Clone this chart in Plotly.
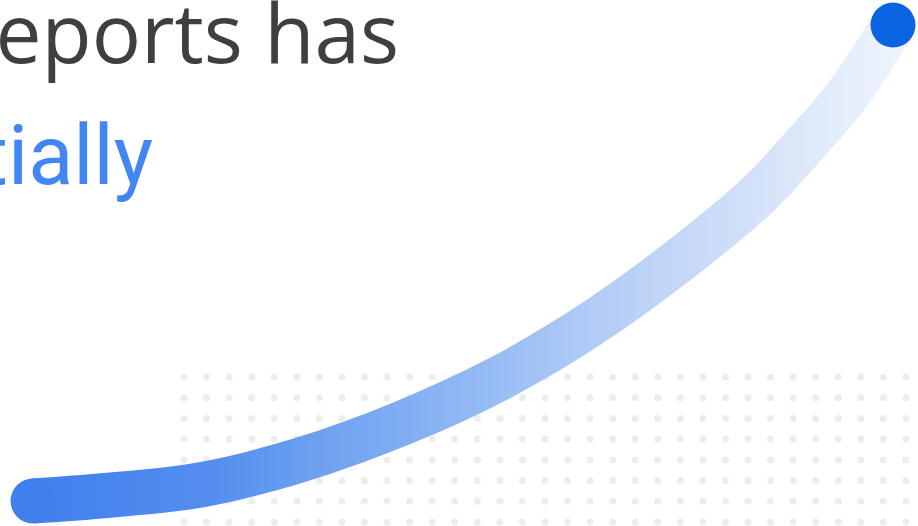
import numpy as np
import plotly.graph_objects as go

W, H = 918, 526

# Growth curve (chart units: x to the right, y upward)
curve_x = [33, 100, 200, 300, 400, 500, 600, 700, 760, 800, 845, 875, 893]
curve_y = [25, 30, 41, 66, 102, 148, 208, 282, 333, 376, 428, 472, 501]

# Gradient stops along the curve (fraction of horizontal extent, colour)
grad_pos = [0.0, 0.21, 0.32, 0.43, 0.54, 0.65, 0.76, 0.87, 1.0]
grad_col = ["rgb(64,128,238)", "rgb(85,142,238)", "rgb(108,160,240)",
            "rgb(130,175,243)", "rgb(155,190,245)", "rgb(180,205,246)",
            "rgb(200,218,247)", "rgb(220,232,249)", "rgb(240,245,252)"]

# Headline text fragments
line1_text = "reports has"
line2_text = "exponentially"

# Dot grid (background texture)
grid_x0, grid_dx, grid_nx = 184, 22.56, 33
grid_y0, grid_dy, grid_ny = 526 - 377, -20.7, 8

BAND_HALF = 22.5

fig = go.Figure()

# dot grid
gx, gy = [], []
for j in range(grid_ny):
    for i in range(grid_nx):
        gx.append(grid_x0 + i * grid_dx)
        gy.append(grid_y0 + j * grid_dy)
fig.add_trace(go.Scatter(x=gx, y=gy, mode="markers",
                         marker=dict(size=7, color="#ededed", line=dict(width=0)),
                         hoverinfo="skip", showlegend=False))

# band edges from the centre line
cx = np.array(curve_x, float)
cy = np.array(curve_y, float)
dx = np.gradient(cx)
dy = np.gradient(cy)
nrm = np.hypot(dx, dy)
nx, ny = -dy / nrm, dx / nrm
ux, uy = cx + nx * BAND_HALF, cy + ny * BAND_HALF
lx, ly = cx - nx * BAND_HALF, cy - ny * BAND_HALF

fig.add_trace(go.Scatter(x=lx, y=ly, mode="lines", line=dict(width=0, shape="spline"),
                         hoverinfo="skip", showlegend=False))
fig.add_trace(go.Scatter(x=ux, y=uy, mode="lines", line=dict(width=0, shape="spline"),
                         fill="tonexty",
                         fillgradient=dict(type="horizontal",
                                           colorscale=[[p, c] for p, c in zip(grad_pos, grad_col)]),
                         hoverinfo="skip", showlegend=False))

# rounded start cap
fig.add_trace(go.Scatter(x=[curve_x[0]], y=[curve_y[0]], mode="markers",
                         marker=dict(size=2 * BAND_HALF, color=grad_col[0], line=dict(width=0)),
                         hoverinfo="skip", showlegend=False))
# end dot
fig.add_trace(go.Scatter(x=[curve_x[-1]], y=[curve_y[-1]], mode="markers",
                         marker=dict(size=45, color="#0a63e1", line=dict(width=0)),
                         hoverinfo="skip", showlegend=False))

fig.add_annotation(text=line1_text, xref="paper", yref="paper",
                   x=401 / W, y=1 - 89 / H, xanchor="right", yanchor="bottom",
                   showarrow=False,
                   font=dict(family="'Open Sans', sans-serif", size=82, color="#3c4043"))
fig.add_annotation(text=line2_text, xref="paper", yref="paper",
                   x=155 / W, y=1 - 206 / H, xanchor="right", yanchor="bottom",
                   showarrow=False,
                   font=dict(family="Roboto, sans-serif", size=83, color="#4285f4"))

fig.update_layout(width=W, height=H, margin=dict(l=0, r=0, t=0, b=0),
                  paper_bgcolor="white", plot_bgcolor="white", showlegend=False)
fig.update_xaxes(range=[0, W], visible=False, fixedrange=True)
fig.update_yaxes(range=[0, H], visible=False, fixedrange=True)

fig.write_html("out.html", config={"displayModeBar": False},
               post_script="document.body.style.margin='0';document.body.style.padding='0';")
